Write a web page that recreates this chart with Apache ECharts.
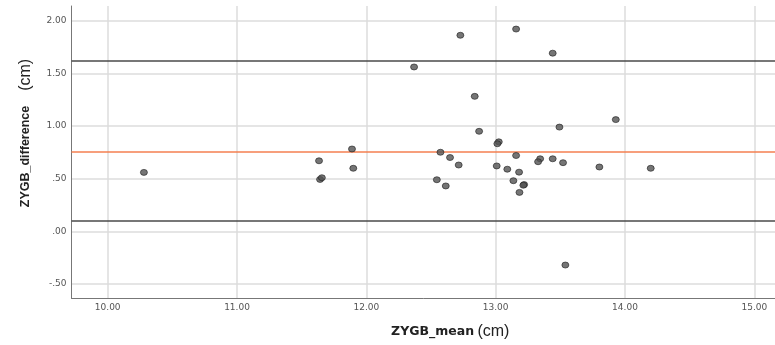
<!DOCTYPE html>
<html>
<head>
<meta charset="utf-8">
<script src="https://cdn.jsdelivr.net/npm/echarts@6/dist/echarts.min.js"></script>
<style>
  html, body { margin: 0; padding: 0; background: #fff; }
  #chart { width: 775px; height: 345px; }
</style>
</head>
<body>
<div id="chart"></div>
<script>
// Bland-Altman: mean of the two measurements vs their difference (cm)
const zygbMean = [
  10.28, 11.634, 11.642, 11.656, 11.889, 11.899, 12.369, 12.727, 13.158, 13.441,
  12.838, 13.929, 12.872, 13.493, 13.024, 13.013, 12.573, 12.647, 12.714, 13.158,
  13.344, 13.328, 13.441, 13.521, 13.802, 14.199, 13.008, 13.09, 13.181, 12.545,
  12.614, 13.137, 13.22, 13.214, 13.184, 13.539
];
const zygbDiff = [
  0.56, 0.67, 0.493, 0.509, 0.782, 0.599, 1.561, 1.862, 1.921, 1.692,
  1.282, 1.061, 0.95, 0.99, 0.85, 0.832, 0.751, 0.701, 0.63, 0.72,
  0.689, 0.661, 0.689, 0.652, 0.611, 0.599, 0.621, 0.59, 0.562, 0.49,
  0.431, 0.481, 0.444, 0.438, 0.37, -0.32
];
// upper limit, mean difference, lower limit
const limitValues = [1.62, 0.763, 0.096];
const xTicks = [10, 11, 12, 13, 14, 15];
const yTicks = [-0.5, 0, 0.5, 1, 1.5, 2];

const points = zygbMean.map((m, i) => [m, zygbDiff[i]]);

const fmtY = (v) => v.toFixed(2).replace(/^(-?)0\./, '$1.');

const chart = echarts.init(document.getElementById('chart'));

const gridLine = { show: true, lineStyle: { color: '#dcdcdc', width: 1.5 } };

chart.setOption({
  animation: false,
  grid: { left: 71.5, right: 0, top: 6, bottom: 41 },
  xAxis: {
    type: 'value',
    min: 9.72,
    max: 15.16,
    name: '{b|ZYGB_mean} {r|(cm)}',
    nameLocation: 'middle',
    nameGap: 26,
    nameTextStyle: {
      padding: [0, 0, 0, 54],
      rich: {
        b: { fontFamily: 'DejaVu Sans', fontWeight: 'bold', fontSize: 12.5, color: '#222' },
        r: { fontFamily: 'Liberation Sans', fontSize: 16, color: '#222' }
      }
    },
    axisLine: { show: true, onZero: false, lineStyle: { color: '#777', width: 1 } },
    axisTick: { show: false, customValues: xTicks },
    axisLabel: {
      customValues: xTicks,
      formatter: (v) => v.toFixed(2),
      fontFamily: 'DejaVu Sans',
      fontSize: 9,
      color: '#555',
      margin: 5
    },
    splitLine: gridLine
  },
  yAxis: {
    type: 'value',
    min: -0.633,
    max: 2.14,
    name: '{b|ZYGB_difference}{r|(cm)}',
    nameLocation: 'middle',
    nameGap: 38,
    nameTextStyle: {
      padding: [0, 0, 0, 38],
      rich: {
        b: { fontFamily: 'Liberation Sans', fontWeight: 'bold', fontSize: 12.5, color: '#222' },
        r: { fontFamily: 'Liberation Sans', fontSize: 16, color: '#222', padding: [0, 0, 0, 15] }
      }
    },
    axisLine: { show: true, onZero: false, lineStyle: { color: '#777', width: 1 } },
    axisTick: { show: false, customValues: yTicks },
    axisLabel: {
      customValues: yTicks,
      formatter: fmtY,
      fontFamily: 'DejaVu Sans',
      fontSize: 9,
      color: '#555',
      margin: 5
    },
    splitLine: gridLine
  },
  series: [
    {
      type: 'scatter',
      data: points,
      symbol: 'circle',
      symbolSize: [7, 6],
      itemStyle: { color: '#525252', borderColor: '#222', borderWidth: 0.8 },
      z: 5,
      markLine: {
        silent: true,
        symbol: 'none',
        label: { show: false },
        data: [
          { yAxis: limitValues[0], lineStyle: { color: '#4a4a4a', width: 1.6, type: 'solid' } },
          { yAxis: limitValues[1], lineStyle: { color: '#f57f50', width: 1.6, type: 'solid' } },
          { yAxis: limitValues[2], lineStyle: { color: '#4a4a4a', width: 1.6, type: 'solid' } }
        ]
      }
    }
  ]
});
</script>
</body>
</html>
